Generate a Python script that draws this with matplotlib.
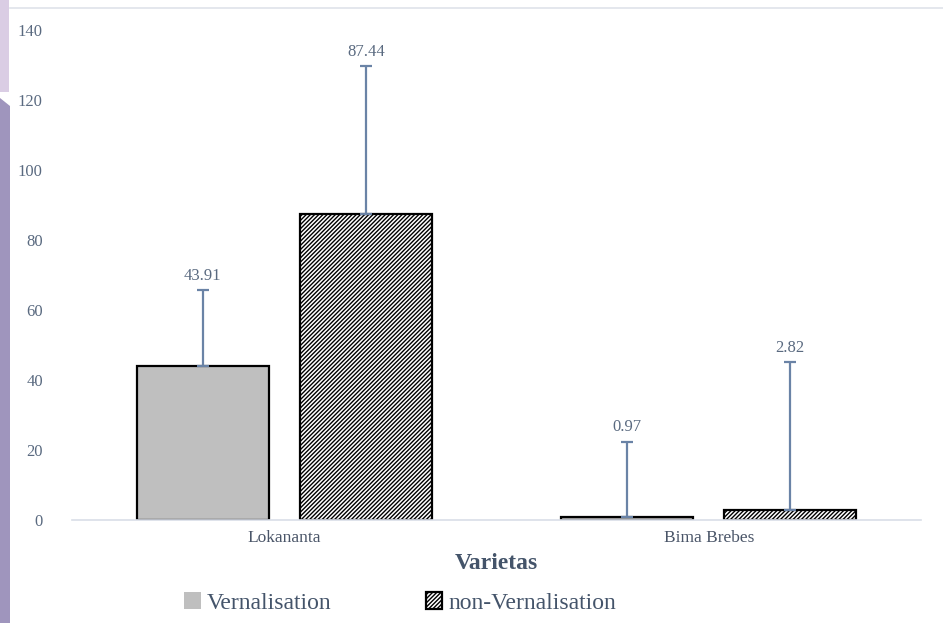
import matplotlib.pyplot as plt
import numpy as np
from matplotlib.patches import Rectangle, Polygon
from matplotlib.lines import Line2D

varieties = ["Lokananta", "Bima Brebes"]
series = ["Vernalisation", "non-Vernalisation"]
vern = [43.91, 0.97]
non_vern = [87.44, 2.82]
vern_err = [21.8, 21.4]
non_vern_err = [42.3, 42.2]

plt.rcParams["font.family"] = ["Liberation Serif", "DejaVu Serif"]
plt.rcParams["hatch.linewidth"] = 1.0

fig = plt.figure(figsize=(9.43, 6.23), dpi=100)
W, H = 943, 623

# slide decoration on the left edge
fig.patches.append(Rectangle((0, 1 - 92 / H), 9 / W, 92 / H, transform=fig.transFigure,
                             facecolor="#dacde4", edgecolor="none", zorder=0))
fig.patches.append(Polygon([(0, 1 - 98 / H), (10 / W, 1 - 106 / H), (10 / W, 0), (0, 0)],
                           closed=True, transform=fig.transFigure,
                           facecolor="#9f95bd", edgecolor="none", zorder=0))
fig.lines.append(Line2D([10 / W, 1], [1 - 8 / H, 1 - 8 / H], transform=fig.transFigure,
                        color="#dfe3ea", lw=1.2))

ax = fig.add_axes([72 / W, 1 - 520 / H, 849 / W, 490 / H])

x = np.arange(len(varieties))
off = 0.192
w = 0.312
err_kw = dict(ecolor="#6a83a6", elinewidth=1.6, capsize=4, capthick=1.6)

ax.bar(x - off, vern, w, color="#bfbfbf", edgecolor="black", linewidth=1.6,
       yerr=[np.zeros(len(vern)), vern_err], error_kw=err_kw)
ax.bar(x + off, non_vern, w, color="white", edgecolor="black", linewidth=1.6,
       hatch="////////", yerr=[np.zeros(len(non_vern)), non_vern_err], error_kw=err_kw)

for xs, vals, errs in [(x - off, vern, vern_err), (x + off, non_vern, non_vern_err)]:
    for xi, v, e in zip(xs, vals, errs):
        ax.text(xi, v + e + 1.8, f"{v:.2f}", ha="center", va="bottom",
                fontsize=12, color="#5a6a80")

ax.set_xlim(-0.5, 1.5)
ax.set_ylim(0, 140)
ax.set_yticks(np.arange(0, 141, 20))
ax.set_xticks(x)
ax.set_xticklabels(varieties)
ax.tick_params(axis="y", length=0, pad=21, labelsize=12, labelcolor="#5a6a80")
ax.tick_params(axis="x", length=0, pad=7, labelsize=12.5, labelcolor="#4a5568")
for s in ["top", "right", "left"]:
    ax.spines[s].set_visible(False)
ax.spines["bottom"].set_color("#d9dee8")
ax.spines["bottom"].set_linewidth(1.2)

ax.set_xlabel("Varietas", fontsize=17, fontweight="bold", color="#44546a", labelpad=5)

h1 = Rectangle((0, 0), 1, 1, facecolor="#bfbfbf", edgecolor="none")
h2 = Rectangle((0, 0), 1, 1, facecolor="white", edgecolor="black", linewidth=1.6,
               hatch="////////")
fig.legend(handles=[h1, h2], labels=series, loc="center left",
           bbox_to_anchor=(163 / W, 1 - 603 / H), ncol=2, frameon=False, fontsize=17,
           handlelength=0.7, handleheight=0.7, handletextpad=0.25, columnspacing=4.0,
           labelcolor="#44546a")

fig.savefig("out.png", dpi=100)
